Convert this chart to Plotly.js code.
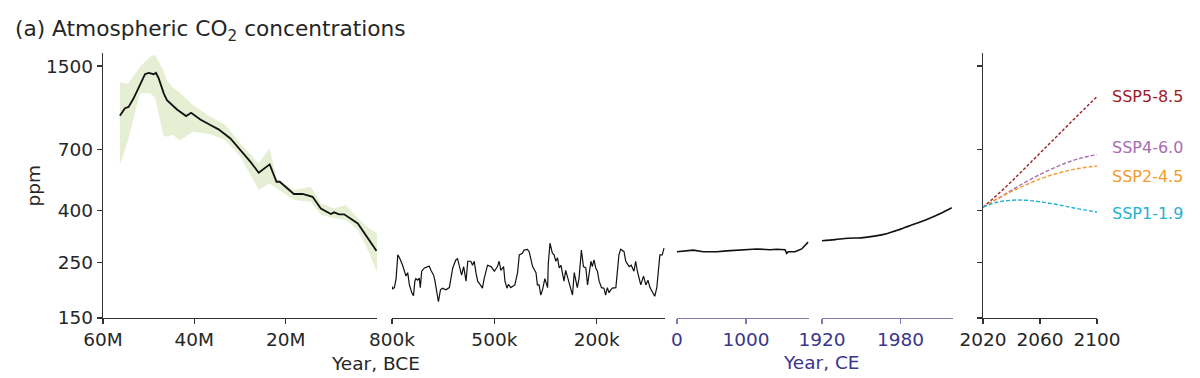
<!DOCTYPE html>
<html>
<head>
<meta charset="utf-8">
<script src="https://cdn.plot.ly/plotly-3.0.1.min.js"></script>
<style>html,body{margin:0;padding:0;background:#fff;}#chart{width:1200px;height:378px;}</style>
</head>
<body>
<div id="chart"></div>
<script>
// ---- Panel 1: Cenozoic (age in Ma, CO2 ppm)
const cenoAge = [56.3,55.2,54.4,53.3,51.9,50.8,50.0,48.9,48.4,47.8,46.7,46.0,43.8,41.8,40.7,38.7,36.5,34.7,32.1,29.9,27.7,25.9,24.8,23.5,22.0,21.3,18.2,16.3,14.1,12.3,10.1,9.4,8.3,7.2,4.2,2.0,0.1];
const cenoCO2 = [953,1021,1033,1117,1262,1393,1410,1393,1410,1340,1169,1099,1009,950,979,921,875,841,774,697,625,566,584,611,521,521,466,466,454,408,388,394,387,387,356,311,277];
const bandAge   = [56.3,54.5,51.9,49.7,48.6,46.8,46.0,44.8,43.1,40.3,36.5,33.2,29.9,25.9,23.5,22.0,18.2,14.5,12.3,9.4,6.8,4.2,2.2,0.0];
const bandUpper = [1292,1280,1490,1633,1660,1446,1315,1240,1169,1050,944,875,740,617,707,537,483,498,428,408,421,373,345,325];
const bandLower = [607,762,1169,1169,1128,798,787,800,762,823,805,762,655,483,514,491,441,434,385,373,367,335,284,229];

// ---- Panel 2: ice cores (age in kyr BP, CO2 ppm)
const iceAge = [803,798,793,788,783,778,769,764,759,754,749,742,737,733,730,725,720,717,713,705,696,691,686,678,674,668,664,658,652,642,632,622,613,608,603,596,590,583,578,569,564,559,554,549,541,535,530,520,510,500,491,486,481,473,469,463,459,452,440,432,427,418,413,403,398,388,378,374,369,364,359,352,344,342,337,330,325,320,315,310,305,300,296,291,286,276,271,266,261,257,252,245,239,232,227,222,217,213,208,203,198,193,186,179,174,169,164,159,154,144,140,135,130,120,115,105,99,91,86,81,71,63,56,50,44,37,30,24,20,18,15,8,3];
const iceCO2 = [204,196,198,215,267,260,243,230,220,227,203,189,184,210,215,212,216,198,230,237,240,241,232,222,210,185,174,194,197,194,198,237,255,258,243,222,240,210,252,252,243,252,227,210,203,197,215,243,240,230,240,252,232,240,210,197,204,198,203,227,267,271,279,281,275,240,227,203,203,185,194,215,198,247,297,271,267,252,260,237,243,222,210,232,220,197,185,227,212,198,215,279,240,237,203,230,252,240,255,237,230,210,198,197,185,198,189,194,197,198,222,267,281,275,252,240,243,230,252,230,203,220,203,212,198,189,183,198,222,243,267,267,284];

// ---- Panel 3: 0-1900 CE
const ceYear = [0,236,381,575,720,1010,1155,1348,1445,1565,1590,1613,1710,1807,1855,1900];
const ceCO2  = [275,279,275,275,277,280,282,280,281,280,271,275,275,282,290,300];

// ---- Panel 4: 1920-2019 CE
const modYear = [1920,1930,1940,1950,1960,1970,1980,1990,2000,2010,2019];
const modCO2  = [304,307,311,312,317,325,338,353,369,389,411];

// ---- Panel 5: SSP projections
const sspYear = [2020,2030,2040,2050,2060,2070,2080,2090,2100];
const ssp119 = [413,432,440,440,434,425,414,404,395];
const ssp245 = [413,445,477,506,535,558,578,592,602];
const ssp460 = [413,446,482,520,557,592,624,650,667];
const ssp585 = [413,462,522,595,680,775,880,1000,1135];
const sspNames = ['SSP5-8.5','SSP4-6.0','SSP2-4.5','SSP1-1.9'];
const sspColors = ['#9e1b22','#a96bb3','#f39a2c','#22b2d2'];

const yTicks = [150,250,400,700,1500];

const FONT = 'DejaVu Sans, Verdana, sans-serif';
const TXT = '#262626';
const CE = '#3a368a';
const CELINE = '#7e7bb2';
const FS = 18.5;

const traces = [
  {x: bandAge, y: bandUpper, xaxis:'x', yaxis:'y', mode:'lines', line:{width:0, color:'rgba(0,0,0,0)'}, hoverinfo:'skip', showlegend:false},
  {x: bandAge, y: bandLower, xaxis:'x', yaxis:'y', mode:'lines', line:{width:0, color:'rgba(0,0,0,0)'}, fill:'tonexty', fillcolor:'rgba(195,218,150,0.42)', hoverinfo:'skip', showlegend:false},
  {x: cenoAge, y: cenoCO2, xaxis:'x', yaxis:'y', mode:'lines', line:{color:'#111', width:1.8}, showlegend:false},
  {x: iceAge, y: iceCO2, xaxis:'x2', yaxis:'y', mode:'lines', line:{color:'#111', width:1.2}, showlegend:false},
  {x: ceYear, y: ceCO2, xaxis:'x3', yaxis:'y', mode:'lines', line:{color:'#111', width:1.6}, showlegend:false},
  {x: modYear, y: modCO2, xaxis:'x4', yaxis:'y', mode:'lines', line:{color:'#111', width:1.6, shape:'spline'}, showlegend:false},
  {x: sspYear, y: ssp585, xaxis:'x5', yaxis:'y2', mode:'lines', line:{color:sspColors[0], width:1.4, dash:'3px,2px'}, showlegend:false},
  {x: sspYear, y: ssp460, xaxis:'x5', yaxis:'y2', mode:'lines', line:{color:sspColors[1], width:1.4, dash:'4px,2px', shape:'spline'}, showlegend:false},
  {x: sspYear, y: ssp245, xaxis:'x5', yaxis:'y2', mode:'lines', line:{color:sspColors[2], width:1.4, dash:'4px,2px', shape:'spline'}, showlegend:false},
  {x: sspYear, y: ssp119, xaxis:'x5', yaxis:'y2', mode:'lines', line:{color:sspColors[3], width:1.4, dash:'4px,2px', shape:'spline'}, showlegend:false}
];

const W = 994, L = 103;
const dom = (a,b) => [(a-L)/W, (b-L)/W];
const tickFont = {family: FONT, size: FS, color: TXT};
const baseX = {showline:true, linecolor:'#333', linewidth:1.2, ticks:'outside', ticklen:5, tickwidth:1.2, tickcolor:'#333', showgrid:false, zeroline:false, anchor:'y', tickfont:tickFont, tickmode:'array'};

const layout = {
  width:1200, height:378,
  margin:{l:103, r:103, t:53, b:60},
  paper_bgcolor:'#fff', plot_bgcolor:'rgba(0,0,0,0)',
  font:{family:FONT, color:TXT},
  showlegend:false,
  title:{text:'(a) Atmospheric CO<sub>2</sub> concentrations', font:{family:FONT, size:21.7, color:TXT}, xref:'container', yref:'container', x:0.0125, xanchor:'left', y:0.925, yanchor:'middle'},
  xaxis: Object.assign({}, baseX, {domain:dom(103,377), range:[60,0], tickvals:[60,40,20], ticktext:['60M','40M','20M']}),
  xaxis2: Object.assign({}, baseX, {domain:dom(392,665), range:[800,0], tickvals:[800,500,200], ticktext:['800k','500k','200k']}),
  xaxis3: Object.assign({}, baseX, {domain:dom(677,809), range:[0,1913], tickvals:[0,1000], ticktext:['0','1000'], linecolor:CELINE, tickcolor:CELINE, tickfont:{family:FONT, size:FS, color:CE}}),
  xaxis4: Object.assign({}, baseX, {domain:dom(822,953), range:[1920,2020], tickvals:[1920,1980], ticktext:['1920','1980'], linecolor:CELINE, tickcolor:CELINE, tickfont:{family:FONT, size:FS, color:CE}}),
  xaxis5: Object.assign({}, baseX, {domain:dom(983,1097), range:[2020,2100], tickvals:[2020,2060,2100], ticktext:['2020','2060','2100'], anchor:'y2'}),
  yaxis: {type:'log', range:[Math.log10(150), 3.228], anchor:'x', domain:[0,1], showline:true, linecolor:'#333', linewidth:1.2, ticks:'outside', ticklen:5, tickwidth:1.2, tickcolor:'#333', showgrid:false, zeroline:false, tickmode:'array', tickvals:yTicks, ticktext:yTicks.map(String), tickfont:tickFont},
  yaxis2: {type:'log', range:[Math.log10(150), 3.228], anchor:'x5', domain:[0,1], showline:true, linecolor:'#333', linewidth:1.2, ticks:'outside', ticklen:5, tickwidth:1.2, tickcolor:'#333', showgrid:false, zeroline:false, tickmode:'array', tickvals:yTicks, showticklabels:false},
  annotations: [
    {text:'ppm', xref:'paper', yref:'paper', x:(33-L)/W, y:0.5, xanchor:'center', yanchor:'middle', textangle:-90, showarrow:false, font:{family:FONT, size:FS, color:TXT}},
    {text:'Year, BCE', xref:'paper', yref:'paper', x:(375-L)/W, y:-(363-318)/265, xanchor:'center', yanchor:'middle', showarrow:false, font:{family:FONT, size:FS, color:TXT}},
    {text:'Year, CE', xref:'paper', yref:'paper', x:(821-L)/W, y:-(362-318)/265, xanchor:'center', yanchor:'middle', showarrow:false, font:{family:FONT, size:FS, color:CE}}
  ]
};
const labelY = [96, 147, 176, 213];
sspNames.forEach((n,i) => {
  layout.annotations.push({text:n, xref:'paper', yref:'paper', x:(1110-L)/W, y:(318-labelY[i])/265, xanchor:'left', yanchor:'middle', showarrow:false, font:{family:FONT, size:16, color:sspColors[i]}});
});

Plotly.newPlot('chart', traces, layout, {staticPlot:true, displayModeBar:false});
</script>
</body>
</html>
